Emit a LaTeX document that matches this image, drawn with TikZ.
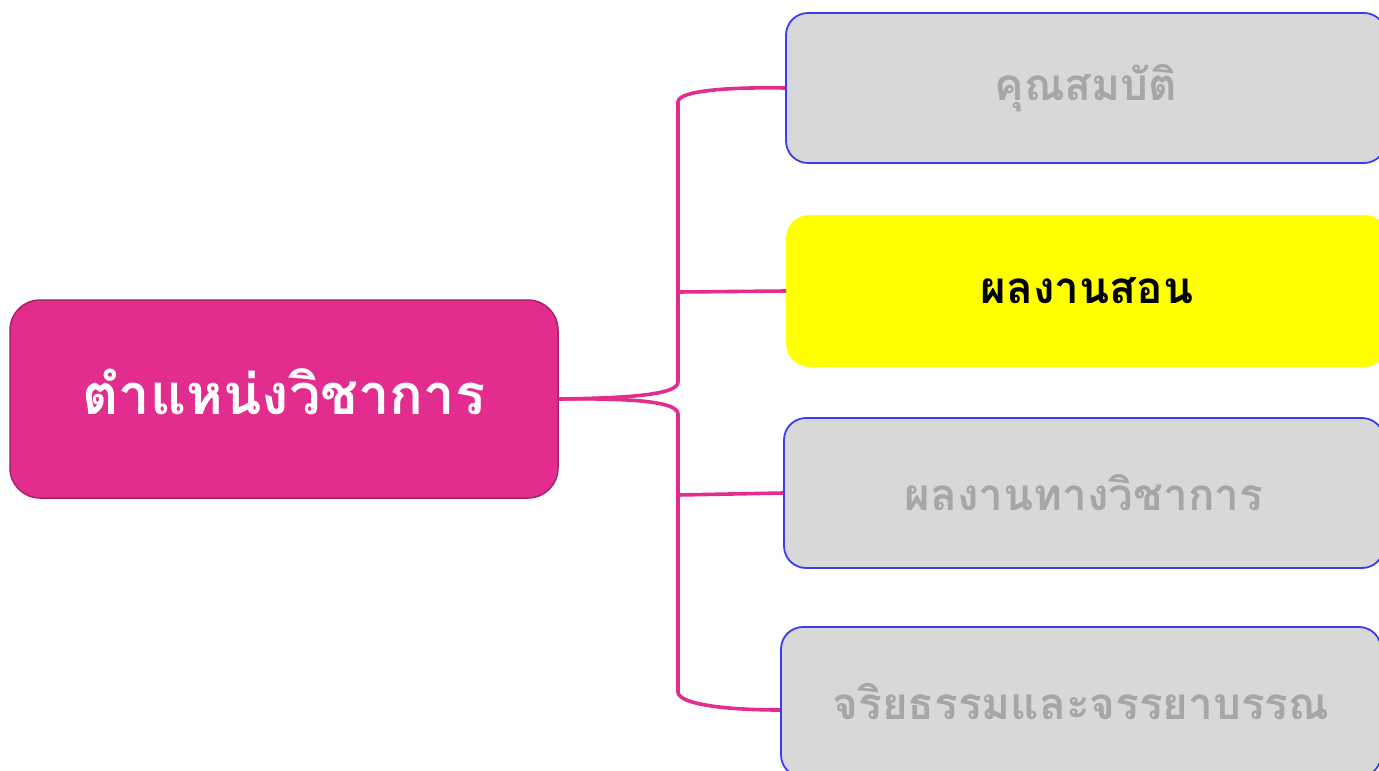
\documentclass[tikz,border=0pt]{standalone}
\usepackage{fontspec}
\newfontfamily\thaifont[Script=Thai]{Loma}
\definecolor{rootpink}{HTML}{E22D8F}
\definecolor{rootedge}{HTML}{A8206E}
\definecolor{leafgray}{HTML}{D8D8D8}
\definecolor{leafedge}{HTML}{3B3BF0}
\definecolor{leaftext}{HTML}{A6A6A6}
\definecolor{focusyellow}{HTML}{FFFF00}

\tikzset{
  root/.style={draw=rootedge, line width=1.5pt, fill=rootpink, rounded corners=30pt,
    minimum width=548pt, minimum height=198pt, text=white, text depth=14pt,
    font=\thaifont\bfseries\fontsize{56}{58}\selectfont},
  leaf/.style={draw=leafedge, line width=1.8pt, fill=leafgray, rounded corners=22pt,
    minimum width=600pt, minimum height=150pt, text=leaftext,
    font=\thaifont\bfseries\fontsize{44}{46}\selectfont},
  focus/.style={leaf, draw=focusyellow, fill=focusyellow, text=black},
  branch/.style={draw=rootpink, line width=3.6pt}
}

\begin{document}
\begin{tikzpicture}[x=1pt,y=-1pt]
  \useasboundingbox (0,0) rectangle (1379,771);

  \node[root] (root) at (284,399) {ตำแหน่งวิชาการ};

  \node[leaf]  (qual)   at (1086,88)  {คุณสมบัติ};
  \node[focus] (teach)  at (1087,291) {ผลงานสอน};
  \node[leaf]  (acad)   at (1084,493) {ผลงานทางวิชาการ};
  \node[leaf]  (ethics) at (1081,702) {จริยธรรมและจรรยาบรรณ};

  \coordinate (jtop) at (678,382);
  \coordinate (jbot) at (678,414);
  \coordinate (jmid) at (678,292);
  \coordinate (jlow) at (678,495);

  % trunk, upper half
  \draw[branch] (root.east) .. controls (635,398) and (678,394) .. (jtop)
    -- (678,102) .. controls (678,91) and (725,87) .. (qual.west);
  % trunk, lower half
  \draw[branch] (root.east) .. controls (635,398) and (678,402) .. (jbot)
    -- (678,692) .. controls (678,704) and (725,710) .. ([yshift=-8pt]ethics.west);

  \draw[branch] (jmid) -- (teach.west);
  \draw[branch] (jlow) -- (acad.west);
\end{tikzpicture}
\end{document}
